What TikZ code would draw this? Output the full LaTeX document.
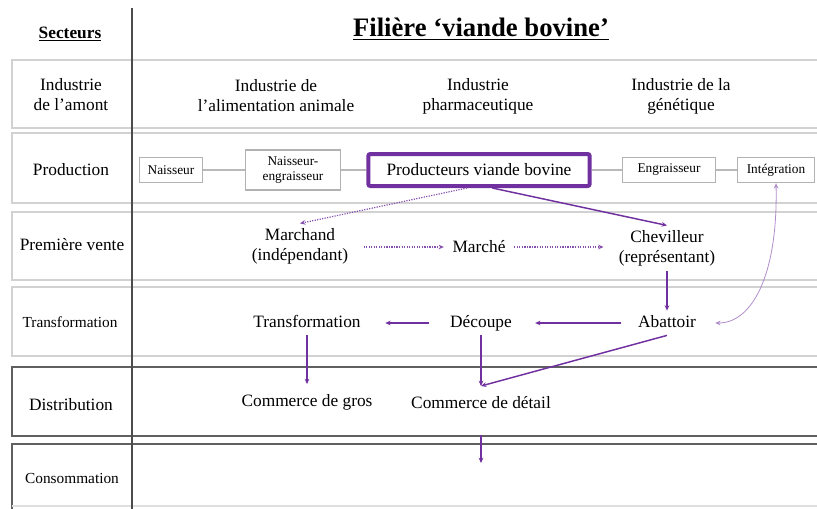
\documentclass[tikz,border=0pt]{standalone}
\usepackage{fontspec}
\setmainfont{Liberation Serif}
\usetikzlibrary{arrows.meta}
\definecolor{filviolet}{HTML}{7030A0}
\begin{document}
\begin{tikzpicture}[x=0.75pt,y=-0.75pt,
    txt/.style={font=\fontsize{13}{15}\selectfont, align=center},
    petit/.style={font=\fontsize{10}{11}\selectfont, align=center},
    boite/.style={draw=gray!60, line width=0.8pt, petit, inner sep=1pt},
    lien/.style={draw=gray!55, line width=0.8pt},
    fleche/.style={filviolet, line width=1.1pt, -{Stealth[length=4pt,width=3.5pt]}},
    pointille/.style={filviolet!85, line width=0.9pt, densely dotted, -{Stealth[length=4pt,width=3.5pt]}}]
    \useasboundingbox (0,0) rectangle (817,508);
    %rows
    \foreach \h/\b in {60/128,133/203,212/280,287/356}
        \draw[gray!35, line width=1pt] (818,\h) -- (12,\h) -- (12,\b) -- (818,\b);
    \draw[gray!75!black, line width=1.1pt] (818,367) -- (12,367) -- (12,436) -- (818,436);
    \draw[gray!75!black, line width=1.1pt] (818,444) -- (12,444) -- (12,509);
    \draw[gray!25, line width=0.8pt] (12,506) -- (818,506);
    \draw[gray!60!black, line width=1pt] (132,8) -- (132,509);
    %titles
    \node[font=\bfseries\fontsize{20}{24}\selectfont] (titre) at (481,29) {\underline{Filière ‘viande bovine’}};
    \node[font=\bfseries\fontsize{13}{15}\selectfont] (secteurs) at (70,34) {\underline{Secteurs}};
    \node[txt] (amont) at (71,95) {Industrie\\de l’amont};
    \node[txt] (production) at (71,170) {Production};
    \node[txt] (vente) at (72,245) {Première vente};
    \node[txt, font=\fontsize{11.5}{13}\selectfont] (transfoS) at (70,322) {Transformation};
    \node[txt] (distribution) at (71,405) {Distribution};
    \node[txt, font=\fontsize{11.5}{13}\selectfont] (conso) at (72,478) {Consommation};
    %amont
    \node[txt] (aliment) at (276,96) {Industrie de\\l’alimentation animale};
    \node[txt] (pharma) at (478,96) {Industrie\\pharmaceutique};
    \node[txt] (genetique) at (681,96) {Industrie de la\\génétique};
    %production
    \node[boite, minimum width=47pt, minimum height=19pt] (naisseur) at (171,170) {Naisseur};
    \node[boite, minimum width=71pt, minimum height=30pt] (naissengr) at (293,170) {Naisseur-\\engraisseur};
    \node[draw=filviolet, line width=3pt, rounded corners=1.5pt, txt, minimum width=166pt, minimum height=24pt] (producteurs) at (479,170) {Producteurs viande bovine};
    \node[boite, minimum width=70pt, minimum height=19pt] (engraisseur) at (669,170) {Engraisseur};
    \node[boite, minimum width=58pt, minimum height=19pt] (integration) at (776,170) {Intégration};
    \draw[lien] (naisseur.east) -- (naissengr.west);
    \draw[lien] (naissengr.east) -- (producteurs.west);
    \draw[lien] (producteurs.east) -- (engraisseur.west);
    \draw[lien] (engraisseur.east) -- (integration.west);
    %premiere vente
    \node[txt] (marchand) at (300,246) {Marchand\\(indépendant)};
    \node[txt] (marche) at (479,247) {Marché};
    \node[txt] (chevilleur) at (667,248) {Chevilleur\\(représentant)};
    \draw[pointille] ([xshift=-9pt]producteurs.south) -- (marchand.north);
    \draw[fleche] ([xshift=10pt]producteurs.south) -- (chevilleur.north);
    \draw[pointille, shorten <=8pt, shorten >=3pt] (marchand.east |- marche.west) -- (marche.west);
    \draw[pointille, shorten <=3pt, shorten >=8pt] (marche.east) -- (chevilleur.west |- marche.east);
    %transformation
    \node[txt, text depth=0.25em] (transformation) at (307,323) {Transformation};
    \node[txt, text depth=0.25em] (decoupe) at (481,323) {Découpe};
    \node[txt, text depth=0.25em] (abattoir) at (667,323) {Abattoir};
    \draw[fleche] (chevilleur.south) -- (abattoir.north);
    \draw[fleche, shorten <=9pt, shorten >=14pt] (abattoir.west) -- (decoupe.east);
    \draw[fleche, shorten <=12pt, shorten >=15pt] (decoupe.west) -- (transformation.east);
    \draw[filviolet!55, line width=0.6pt, {Stealth[length=4pt,width=3.5pt]}-{Stealth[length=4pt,width=3.5pt]}, shorten >=11pt]
        (integration.south) .. controls (778,275) and (752,323) .. (abattoir.east);
    %distribution
    \node[txt] (gros) at (307,402) {Commerce de gros};
    \node[txt] (detail) at (481,403) {Commerce de détail};
    \coordinate (jonction) at (481,386);
    \coordinate (client) at (481,463);
    \draw[fleche, shorten >=4pt] (transformation.south) -- (gros.north);
    \draw[fleche] (decoupe.south) -- (jonction);
    \draw[fleche] (abattoir.south) -- (jonction);
    \draw[fleche, shorten <=16pt] (detail.south) -- (client);
\end{tikzpicture}
\end{document}
